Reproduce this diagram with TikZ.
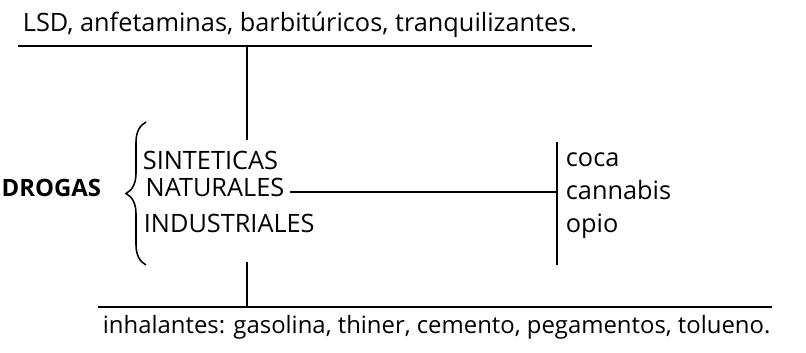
\documentclass[tikz,border=0pt]{standalone}
\usepackage{fontspec}
\setmainfont{Open Sans}
\usetikzlibrary{decorations.pathreplacing}

\begin{document}
\begin{tikzpicture}[line width=1.3pt, font=\fontsize{18}{21}\selectfont,
        txt/.style={anchor=base west, inner sep=0pt}]
        % 画布大小与原图一致(1cm 约合 40px)
        \useasboundingbox (0, 0) rectangle (20.15, 8.8);

        % 中间: 分类
        \node [txt, anchor=base east, font=\fontsize{17}{20}\selectfont\bfseries]
            (drogas) at (2.55, 3.9) {DROGAS};
        \node [txt] (sint) at (3.55, 4.55) {SINTETICAS};
        \node [txt] (nat)  at (3.62, 3.9)  {NATURALES};
        \node [txt] (ind)  at (3.575, 3.0) {INDUSTRIALES};
        % 大括号, 尖端朝左
        \draw [line width=1.1pt, decorate, decoration={brace, amplitude=0.5cm}]
            (3.65, 2.175) -- (3.65, 5.75);

        % 上方: 合成类的例子
        \node [txt] (lsd) at (0.55, 8.0)
            {LSD, anfetaminas, barbitúricos, tranquilizantes.};
        \coordinate (lsdL) at (0.45, 7.65);
        \coordinate (lsdR) at (14.8, 7.65);
        \coordinate (lsdM) at (6.175, 7.65);
        \coordinate (sintM) at (6.175, 5.3);
        \draw (lsdL) -- (lsdR);
        \draw (lsdM) -- (sintM);

        % 右侧: 天然类的例子
        \coordinate (barT) at (13.925, 5.25);
        \coordinate (barB) at (13.925, 2.175);
        \coordinate (natR) at (7.25, 4.0);
        \draw (barT) -- (barB);
        \draw (natR) -- (natR -| barT);
        \node [txt] (coca)     at (14.125, 4.625) {coca};
        \node [txt] (cannabis) at (14.125, 3.8)   {cannabis};
        \node [txt] (opio)     at (14.125, 3.0)   {opio};

        % 下方: 工业类的例子
        \node [txt, font=\fontsize{17}{20}\selectfont] (inh) at (2.55, 0.475)
            {inhalantes: gasolina, thiner, cemento, pegamentos, tolueno.};
        \coordinate (indM) at (6.175, 2.25);
        \coordinate (inhL) at (2.45, 1.125);
        \coordinate (inhR) at (19.3, 1.125);
        \draw (inhL) -- (inhR);
        \draw (indM) -- (indM |- inhL);
\end{tikzpicture}
\end{document}
